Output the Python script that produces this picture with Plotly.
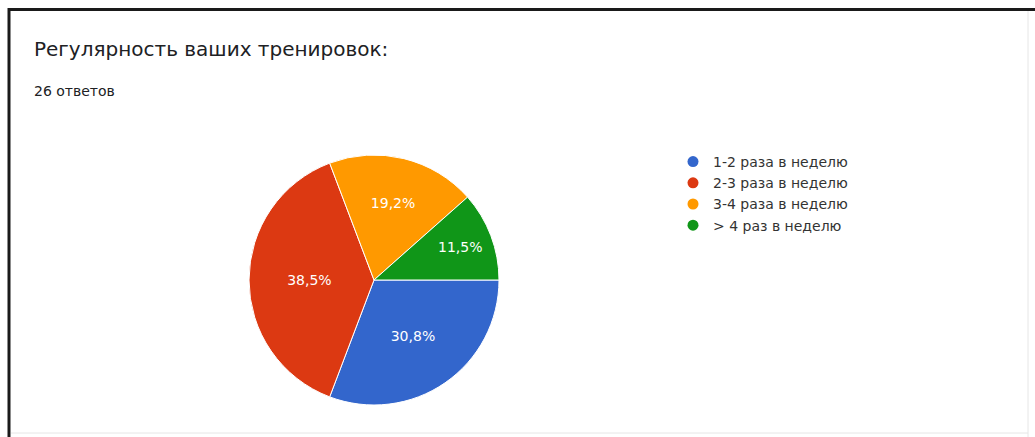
import plotly.graph_objects as go

labels = ["1-2 раза в неделю", "2-3 раза в неделю", "3-4 раза в неделю", "> 4 раз в неделю"]
counts = [8, 10, 5, 3]
colors = ["#3366cc", "#dc3912", "#ff9900", "#109618"]
title_text = "Регулярность ваших тренировок:"
subtitle_text = "26 ответов"

W, H = 1035, 437

fig = go.Figure()
fig.add_trace(go.Pie(
    labels=labels, values=counts, sort=False, direction="clockwise", rotation=90,
    marker=dict(colors=colors, line=dict(color="white", width=1)),
    textinfo="percent", texttemplate="%{percent:.1%}", textposition="inside",
    insidetextorientation="horizontal",
    textfont=dict(family="DejaVu Sans", size=14, color="white"),
    showlegend=False, hoverinfo="label+percent",
    domain=dict(x=[249 / W, 499 / W], y=[1 - 405 / H, 1 - 155 / H]),
))
for lab, col in zip(labels, colors):
    fig.add_trace(go.Scatter(x=[None], y=[None], mode="markers", name=lab,
                             marker=dict(color=col, size=11, symbol="circle")))

fig.update_layout(
    width=W, height=H, margin=dict(l=0, r=0, t=0, b=0),
    paper_bgcolor="white", plot_bgcolor="white",
    separators=", ",
    xaxis=dict(visible=False), yaxis=dict(visible=False),
    legend=dict(x=673 / W, y=1 - 146 / H, xanchor="left", yanchor="top",
                font=dict(family="DejaVu Sans", size=14, color="#333333"),
                bgcolor="rgba(0,0,0,0)", tracegroupgap=0),
    annotations=[
        dict(text=title_text, x=32 / W, y=1 - 49 / H, xref="paper", yref="paper",
             xanchor="left", yanchor="middle", showarrow=False,
             font=dict(family="DejaVu Sans", size=20, color="#202124")),
        dict(text=subtitle_text, x=32 / W, y=1 - 91 / H, xref="paper", yref="paper",
             xanchor="left", yanchor="middle", showarrow=False,
             font=dict(family="DejaVu Sans", size=14, color="#202124")),
    ],
    shapes=[
        dict(type="line", xref="paper", yref="paper", x0=9 / W, x1=1, y0=1 - 9.5 / H, y1=1 - 9.5 / H,
             line=dict(color="#1a1a1a", width=3)),
        dict(type="line", xref="paper", yref="paper", x0=9 / W, x1=9 / W, y0=0, y1=1 - 8 / H,
             line=dict(color="#1a1a1a", width=3)),
        dict(type="line", xref="paper", yref="paper", x0=1028 / W, x1=1028 / W, y0=0, y1=1 - 11 / H,
             line=dict(color="#e6e6e6", width=1)),
        dict(type="line", xref="paper", yref="paper", x0=11 / W, x1=1028 / W, y0=1 - 433 / H, y1=1 - 433 / H,
             line=dict(color="#e6e6e6", width=1)),
    ],
)

fig.write_html("out.html")
